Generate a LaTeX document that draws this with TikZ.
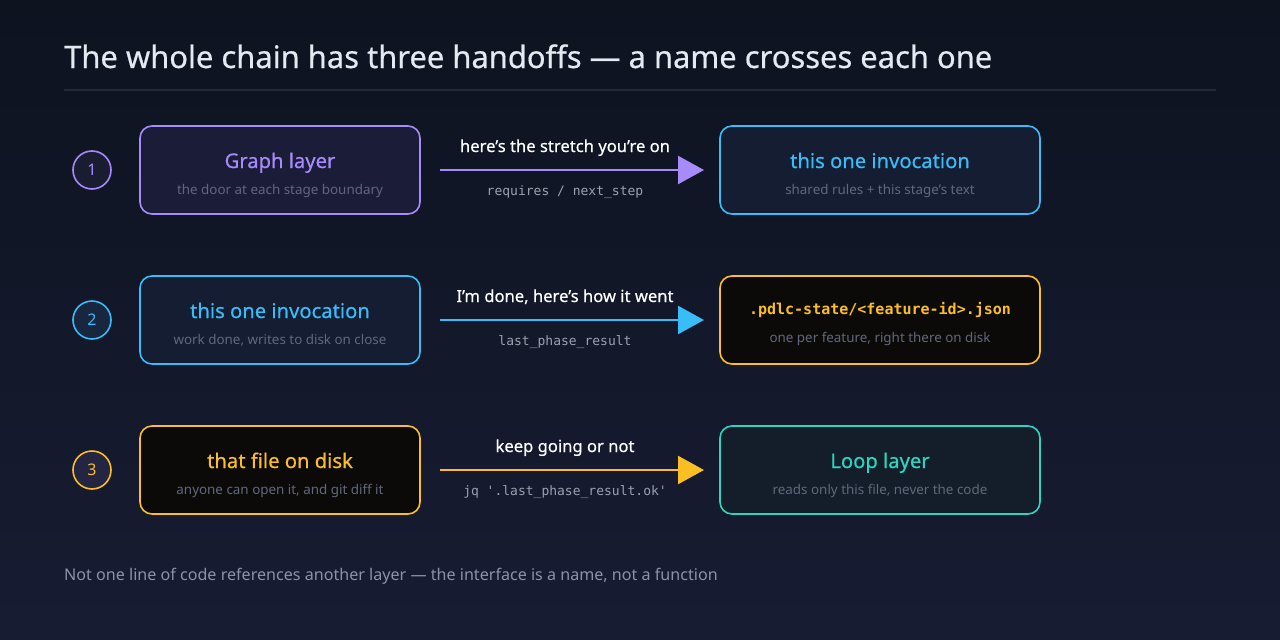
\documentclass[tikz,border=0pt]{standalone}
\usepackage{fontspec}
\setmainfont{Noto Sans}
\newfontfamily\medfont[FakeBold=0.5]{Noto Sans}
\newfontfamily\monofont{DejaVu Sans Mono}
\usetikzlibrary{arrows.meta}
\definecolor{bgtop}{HTML}{0E1320}
\definecolor{bgbot}{HTML}{171C33}
\definecolor{rule}{HTML}{232A3E}
\definecolor{cpurple}{HTML}{A78BFA}
\definecolor{cblue}{HTML}{38BDF8}
\definecolor{camber}{HTML}{FBBF24}
\definecolor{cteal}{HTML}{2DD4BF}
\definecolor{fpurple}{HTML}{1A1C38}
\definecolor{fblue}{HTML}{141D32}
\definecolor{famber}{HTML}{0C0A09}
\definecolor{fteal}{HTML}{131E2A}
\definecolor{subgray}{HTML}{5F687C}
\definecolor{codegray}{HTML}{9AA1AF}
\definecolor{titlecol}{HTML}{E5E9F2}
\definecolor{footcol}{HTML}{8B93A6}
\tikzset{
  box/.style={draw=#1, line width=1.6pt, rounded corners=12pt, minimum width=280pt, minimum height=88pt},
  boxtitle/.style={text=#1, font=\medfont\fontsize{20.2}{24}\selectfont, anchor=base, inner sep=0pt},
  boxsub/.style={text=subgray, font=\fontsize{13.4}{16}\selectfont, anchor=base, inner sep=0pt},
  numcirc/.style={draw=#1, line width=1.6pt, circle, minimum size=38pt, inner sep=0pt, text=#1, font=\fontsize{16}{18}\selectfont},
  flow/.style={draw=#1, line width=2.5pt, -{Triangle[length=26pt, width=28pt, fill=#1]}},
  toplabel/.style={text=white, font=\medfont\fontsize{16.6}{19}\selectfont, anchor=base, inner sep=0pt},
  codelabel/.style={text=codegray, font=\monofont\fontsize{13}{15}\selectfont, anchor=base, inner sep=0pt},
}
\begin{document}
\begin{tikzpicture}[x=1pt,y=-1pt]
\useasboundingbox (0,0) rectangle (1280,640);
\shade[top color=bgtop, bottom color=bgbot] (0,0) rectangle (1280,640);
\node[anchor=base west, inner sep=0pt, text=titlecol, font=\medfont\fontsize{30.9}{36}\selectfont] (title) at (64,68) {The whole chain has three handoffs — a name crosses each one};
\draw[rule, line width=1.5pt] (64,90) coordinate (r1) -- (1216,90) coordinate (r2);

% row 1
\node[numcirc=cpurple, fill=cpurple!8!bgtop] (n1) at (92,170) {1};
\node[box=cpurple, fill=fpurple, minimum width=280pt] (a1) at (280,170) {};
\node[boxtitle=cpurple] (a1t) at (280,168) {Graph layer};
\node[boxsub] (a1s) at (280,194) {the door at each stage boundary};
\node[box=cblue, fill=fblue, minimum width=320pt] (b1) at (880,170) {};
\node[boxtitle=cblue] (b1t) at (880,168) {this one invocation};
\node[boxsub] (b1s) at (880,194) {shared rules + this stage’s text};
\coordinate (s1) at (440,170);
\coordinate (e1) at (704,170);
\draw[flow=cpurple] (s1) -- (e1);
\node[toplabel] (l1) at (565,152) {here’s the stretch you’re on};
\node[codelabel] (c1) at (565,195) {requires / next\_step};

% row 2
\node[numcirc=cblue, fill=cblue!6!bgbot] (n2) at (92,320) {2};
\node[box=cblue, fill=fblue, minimum width=280pt] (a2) at (280,320) {};
\node[boxtitle=cblue] (a2t) at (280,318) {this one invocation};
\node[boxsub] (a2s) at (280,344) {work done, writes to disk on close};
\node[box=camber, fill=famber, minimum width=320pt] (b2) at (880,320) {};
\node[text=camber, font=\monofont\bfseries\fontsize{15}{17}\selectfont, anchor=base, inner sep=0pt] (b2t) at (880,314) {.pdlc-state/<feature-id>.json};
\node[boxsub] (b2s) at (880,342) {one per feature, right there on disk};
\coordinate (s2) at (440,320);
\coordinate (e2) at (704,320);
\draw[flow=cblue] (s2) -- (e2);
\node[toplabel] (l2) at (565,302) {I’m done, here’s how it went};
\node[codelabel] (c2) at (565,345) {last\_phase\_result};

% row 3
\node[numcirc=camber, fill=cpurple!8!bgbot] (n3) at (92,470) {3};
\node[box=camber, fill=famber, minimum width=280pt] (a3) at (280,470) {};
\node[boxtitle=camber] (a3t) at (280,468) {that file on disk};
\node[boxsub] (a3s) at (280,494) {anyone can open it, and git diff it};
\node[box=cteal, fill=fteal, minimum width=320pt] (b3) at (880,470) {};
\node[boxtitle=cteal] (b3t) at (880,468) {Loop layer};
\node[boxsub] (b3s) at (880,494) {reads only this file, never the code};
\coordinate (s3) at (440,470);
\coordinate (e3) at (704,470);
\draw[flow=camber] (s3) -- (e3);
\node[toplabel] (l3) at (565,452) {keep going or not};
\node[codelabel] (c3) at (565,495) {jq '.last\_phase\_result.ok'};

\node[anchor=base west, inner sep=0pt, text=footcol, font=\fontsize{16.1}{19}\selectfont] (foot) at (64,580) {Not one line of code references another layer — the interface is a name, not a function};
\end{tikzpicture}
\end{document}
